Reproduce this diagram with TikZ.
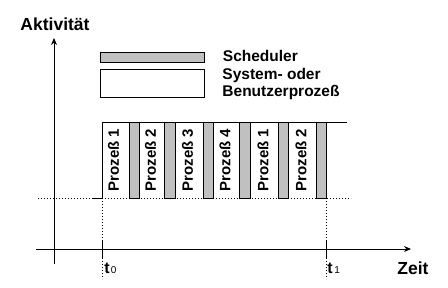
\documentclass[tikz,border=0pt]{standalone}
\usepackage{fontspec}
\setmainfont{Liberation Sans}
\usetikzlibrary{arrows.meta}
\definecolor{schedgray}{RGB}{192,192,192}
\begin{document}
\begin{tikzpicture}[x=1pt,y=-1pt,line width=0.9pt,
  axislbl/.style={font=\bfseries\fontsize{17.5}{17.5}\selectfont,inner sep=0pt},
  leg/.style={font=\bfseries\fontsize{15.5}{17}\selectfont,inner sep=0pt,anchor=base west},
  proc/.style={font=\bfseries\fontsize{15}{15}\selectfont,inner sep=0pt,rotate=90},
  tlbl/.style={inner sep=0pt,anchor=base west},
  sched/.style={draw,fill=schedgray},
  userbox/.style={draw,fill=white},
  dotline/.style={dash pattern=on 0.9pt off 2.1pt},
  axisarrow/.style={-{Stealth[length=7pt,width=6pt]}}]
\useasboundingbox (0,0) rectangle (448,288);
% axes
\coordinate (yb) at (54,264);
\coordinate (yt) at (54,38);
\coordinate (xl) at (36,249);
\coordinate (xr) at (411,249);
\draw[axisarrow] (yb) -- (yt);
\draw[axisarrow] (xl) -- (xr);
\node[axislbl,anchor=base] (akt) at (55,31) {Aktivität};
\node[axislbl,anchor=base west] (zeit) at (397,275) {Zeit};
% legend
\draw[sched] (100,52) rectangle (204,62);
\draw[userbox] (100,69) rectangle (204,97);
\node[leg] (l1) at (222.5,62) {Scheduler};
\node[leg] (l2) at (222,79.5) {System- oder};
\node[leg] (l3) at (222,97) {Benutzerprozeß};
% baseline level
\draw[dotline] (38,198) -- (92,198);
\draw (92,198) -- (102,198);
\draw[dotline] (102,198) -- (351,198);
% time markers
\draw[dotline] (102,198) -- (102,279);
\draw[dotline] (326,198) -- (326,279);
\draw (102,241) -- (102,258);
\draw (326,241) -- (326,258);
\node[tlbl] (t0) at (104,274) {\bfseries\fontsize{16}{16}\selectfont t\kern1pt{\mdseries\fontsize{10}{10}\selectfont 0}};
\node[tlbl] (t1) at (327,274) {\bfseries\fontsize{16}{16}\selectfont t\kern1.5pt{\mdseries\fontsize{10}{10}\selectfont 1}};
% process block
\draw (102,198) -- (102,122) -- (347,122);
\foreach \a/\b in {129/139.5,164.5/175,203/213.5,239.5/250,278/288.5,316/326.5}
  \draw[sched] (\a,122) rectangle (\b,198);
\node[proc] (p1) at (113.5,160) {Prozeß 1};
\node[proc] (p2) at (150.5,160) {Prozeß 2};
\node[proc] (p3) at (187.5,160) {Prozeß 3};
\node[proc] (p4) at (225,160) {Prozeß 4};
\node[proc] (p5) at (263,160) {Prozeß 1};
\node[proc] (p6) at (301,160) {Prozeß 2};
\end{tikzpicture}
\end{document}
